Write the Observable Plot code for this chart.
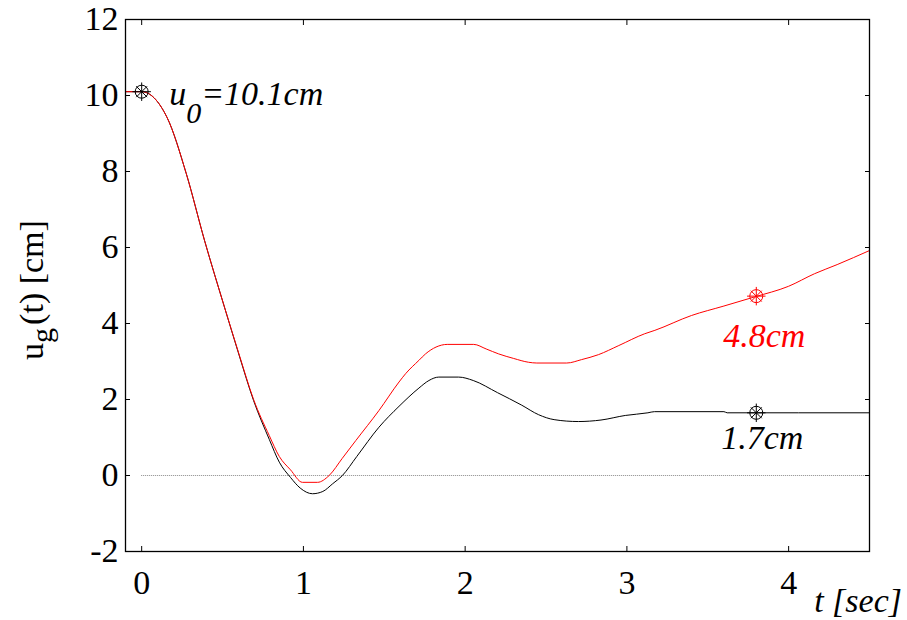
<!DOCTYPE html>
<html>
<head>
<meta charset="utf-8">
<script src="https://cdn.jsdelivr.net/npm/d3@7"></script>
<script src="https://cdn.jsdelivr.net/npm/@observablehq/plot@0.6"></script>
<style>
  html, body { margin: 0; padding: 0; background: #fff; }
  #chart { width: 907px; height: 620px; }
</style>
</head>
<body>
<div id="chart"></div>
<script>
// ---- data ----
const tBlack = [-0.1, 0, 0.156, 0.276, 0.389, 0.512, 0.60, 0.692, 0.789, 0.851, 0.92, 0.98, 1.056, 1.12, 1.18, 1.241, 1.33, 1.467, 1.591, 1.714, 1.776, 1.837, 1.96, 2.05, 2.2, 2.35, 2.454, 2.55, 2.7, 2.84, 2.99, 3.13, 3.17, 3.6, 3.62, 4.5];
const uBlack = [10.1, 10.1, 9.43, 7.94, 6.18, 4.43, 3.2, 1.97, 0.95, 0.35, -0.05, -0.33, -0.48, -0.42, -0.22, 0, 0.5, 1.27, 1.82, 2.3, 2.5, 2.59, 2.59, 2.5, 2.18, 1.85, 1.6, 1.47, 1.42, 1.46, 1.58, 1.65, 1.68, 1.68, 1.65, 1.65];

const tRed = [-0.1, 0, 0.156, 0.276, 0.389, 0.512, 0.60, 0.692, 0.789, 0.851, 0.92, 0.994, 1.087, 1.159, 1.24, 1.324, 1.467, 1.591, 1.632, 1.714, 1.755, 1.82, 1.889, 2.053, 2.13, 2.207, 2.3, 2.392, 2.443, 2.628, 2.72, 2.824, 2.95, 3.11, 3.173, 3.399, 3.6, 3.79, 4.0, 4.16, 4.3, 4.5];
const uRed = [10.1, 10.1, 9.43, 7.94, 6.18, 4.43, 3.22, 2.0, 1.05, 0.5, 0.15, -0.18, -0.18, 0, 0.45, 0.92, 1.71, 2.46, 2.68, 3.03, 3.2, 3.38, 3.45, 3.45, 3.33, 3.2, 3.08, 2.98, 2.96, 2.96, 3.05, 3.18, 3.42, 3.73, 3.82, 4.21, 4.46, 4.7, 4.98, 5.31, 5.55, 5.92];

const markerT = [0, 3.8, 3.8];
const markerU = [10.1, 1.65, 4.72];
const markerColor = ["black", "black", "red"];

const xTicks = [0, 1, 2, 3, 4];
const yTicks = [-2, 0, 2, 4, 6, 8, 10, 12];
const xDomain = [-0.1, 4.5];
const yDomain = [-2, 12];

const annotText = ["1.7cm", "4.8cm"];
const annotT = [3.8, 3.8];
const annotU = [1.65, 4.72];
const annotColor = ["black", "red"];

const xLabel = "t [sec]";
const u0Label = {main: "u", sub: "0", rest: "=10.1cm"};
const yLabel = {main: "u", sub: "g", rest: "(t) [cm]"};

// ---- tables ----
const black = tBlack.map((t, i) => ({t, u: uBlack[i]}));
const red = tRed.map((t, i) => ({t, u: uRed[i]}));
const markers = markerT.map((t, i) => ({t, u: markerU[i], c: markerColor[i]}));
const annots = annotText.map((s, i) => ({s, t: annotT[i], u: annotU[i], c: annotColor[i]}));

const FONT = "'Liberation Serif', 'Times New Roman', serif";

const chart = Plot.plot({
  width: 907,
  height: 620,
  marginLeft: 125,
  marginRight: 38,
  marginTop: 19,
  marginBottom: 69,
  style: {fontFamily: FONT, fontSize: "34px", color: "black", background: "white", overflow: "visible"},
  x: {domain: xDomain},
  y: {domain: yDomain},
  color: {type: "identity"},
  marks: [
    Plot.ruleY([0], {x1: 0, x2: xDomain[1], stroke: "#8a8a8a", strokeWidth: 1, strokeDasharray: "1,1"}),
    Plot.line(black, {x: "t", y: "u", stroke: "black", strokeWidth: 1, curve: "monotone-x"}),
    Plot.line(red, {x: "t", y: "u", stroke: "red", strokeWidth: 1, curve: "monotone-x"}),
    Plot.dot(markers, {x: "t", y: "u", stroke: "c", r: 6.5, fill: "none", strokeWidth: 1}),
    Plot.dot(markers, {x: "t", y: "u", stroke: "c", symbol: "times", r: 5, strokeWidth: 1}),
    Plot.dot(markers, {x: "t", y: "u", stroke: "c", symbol: "plus", r: 6, strokeWidth: 1}),
    Plot.text(annots.filter(d => d.c === "red"), {x: "t", y: "u", text: "s", fill: "c", lineAnchor: "top", dy: 27, dx: 8, fontStyle: "italic", fontSize: 34}),
    Plot.text(annots.filter(d => d.c === "black"), {x: "t", y: "u", text: "s", fill: "c", lineAnchor: "top", dy: 12, dx: 6, fontStyle: "italic", fontSize: 34}),
    Plot.axisX({anchor: "bottom", ticks: xTicks, tickSize: -5, tickPadding: 23, label: null, tickFormat: d => String(d)}),
    Plot.axisX({anchor: "top", ticks: xTicks, tickSize: -5, tickFormat: () => "", label: null}),
    Plot.axisY({anchor: "left", ticks: yTicks, tickSize: -5, tickPadding: 12, label: null, tickFormat: d => String(d)}),
    Plot.axisY({anchor: "right", ticks: yTicks, tickSize: -5, tickFormat: () => "", label: null}),
    Plot.frame({stroke: "black", strokeWidth: 1.3})
  ]
});

document.getElementById("chart").appendChild(chart);

// ---- labels with subscripts (positioned from the scales) ----
const svg = d3.select(chart);
const sx = chart.scale("x"), sy = chart.scale("y");

// u0 annotation
const u0 = svg.append("text")
  .attr("x", sx.apply(markerT[0]) + 28)
  .attr("y", sy.apply(markerU[0]) + 14)
  .attr("text-anchor", "start")
  .attr("font-family", FONT)
  .attr("font-size", 34)
  .attr("font-style", "italic")
  .attr("fill", "black");
u0.append("tspan").text(u0Label.main);
u0.append("tspan").attr("dy", 18).attr("font-size", 30).text(u0Label.sub);
u0.append("tspan").attr("dy", -18).text(u0Label.rest);

// y axis title
const yc = (sy.apply(yDomain[0]) + sy.apply(yDomain[1])) / 2;
const yl = svg.append("text")
  .attr("transform", `translate(43,${yc + 5}) rotate(-90)`)
  .attr("text-anchor", "middle")
  .attr("font-family", FONT)
  .attr("font-size", 34)
  .attr("fill", "black");
yl.append("tspan").text(yLabel.main);
yl.append("tspan").attr("dy", 9).attr("font-size", 30).text(yLabel.sub);
yl.append("tspan").attr("dy", -9).attr("dx", 3).text(yLabel.rest);

// x axis title
svg.append("text")
  .attr("x", 902)
  .attr("y", 612)
  .attr("text-anchor", "end")
  .attr("font-family", FONT)
  .attr("font-size", 34)
  .attr("font-style", "italic")
  .attr("fill", "black")
  .text(xLabel);
</script>
</body>
</html>
